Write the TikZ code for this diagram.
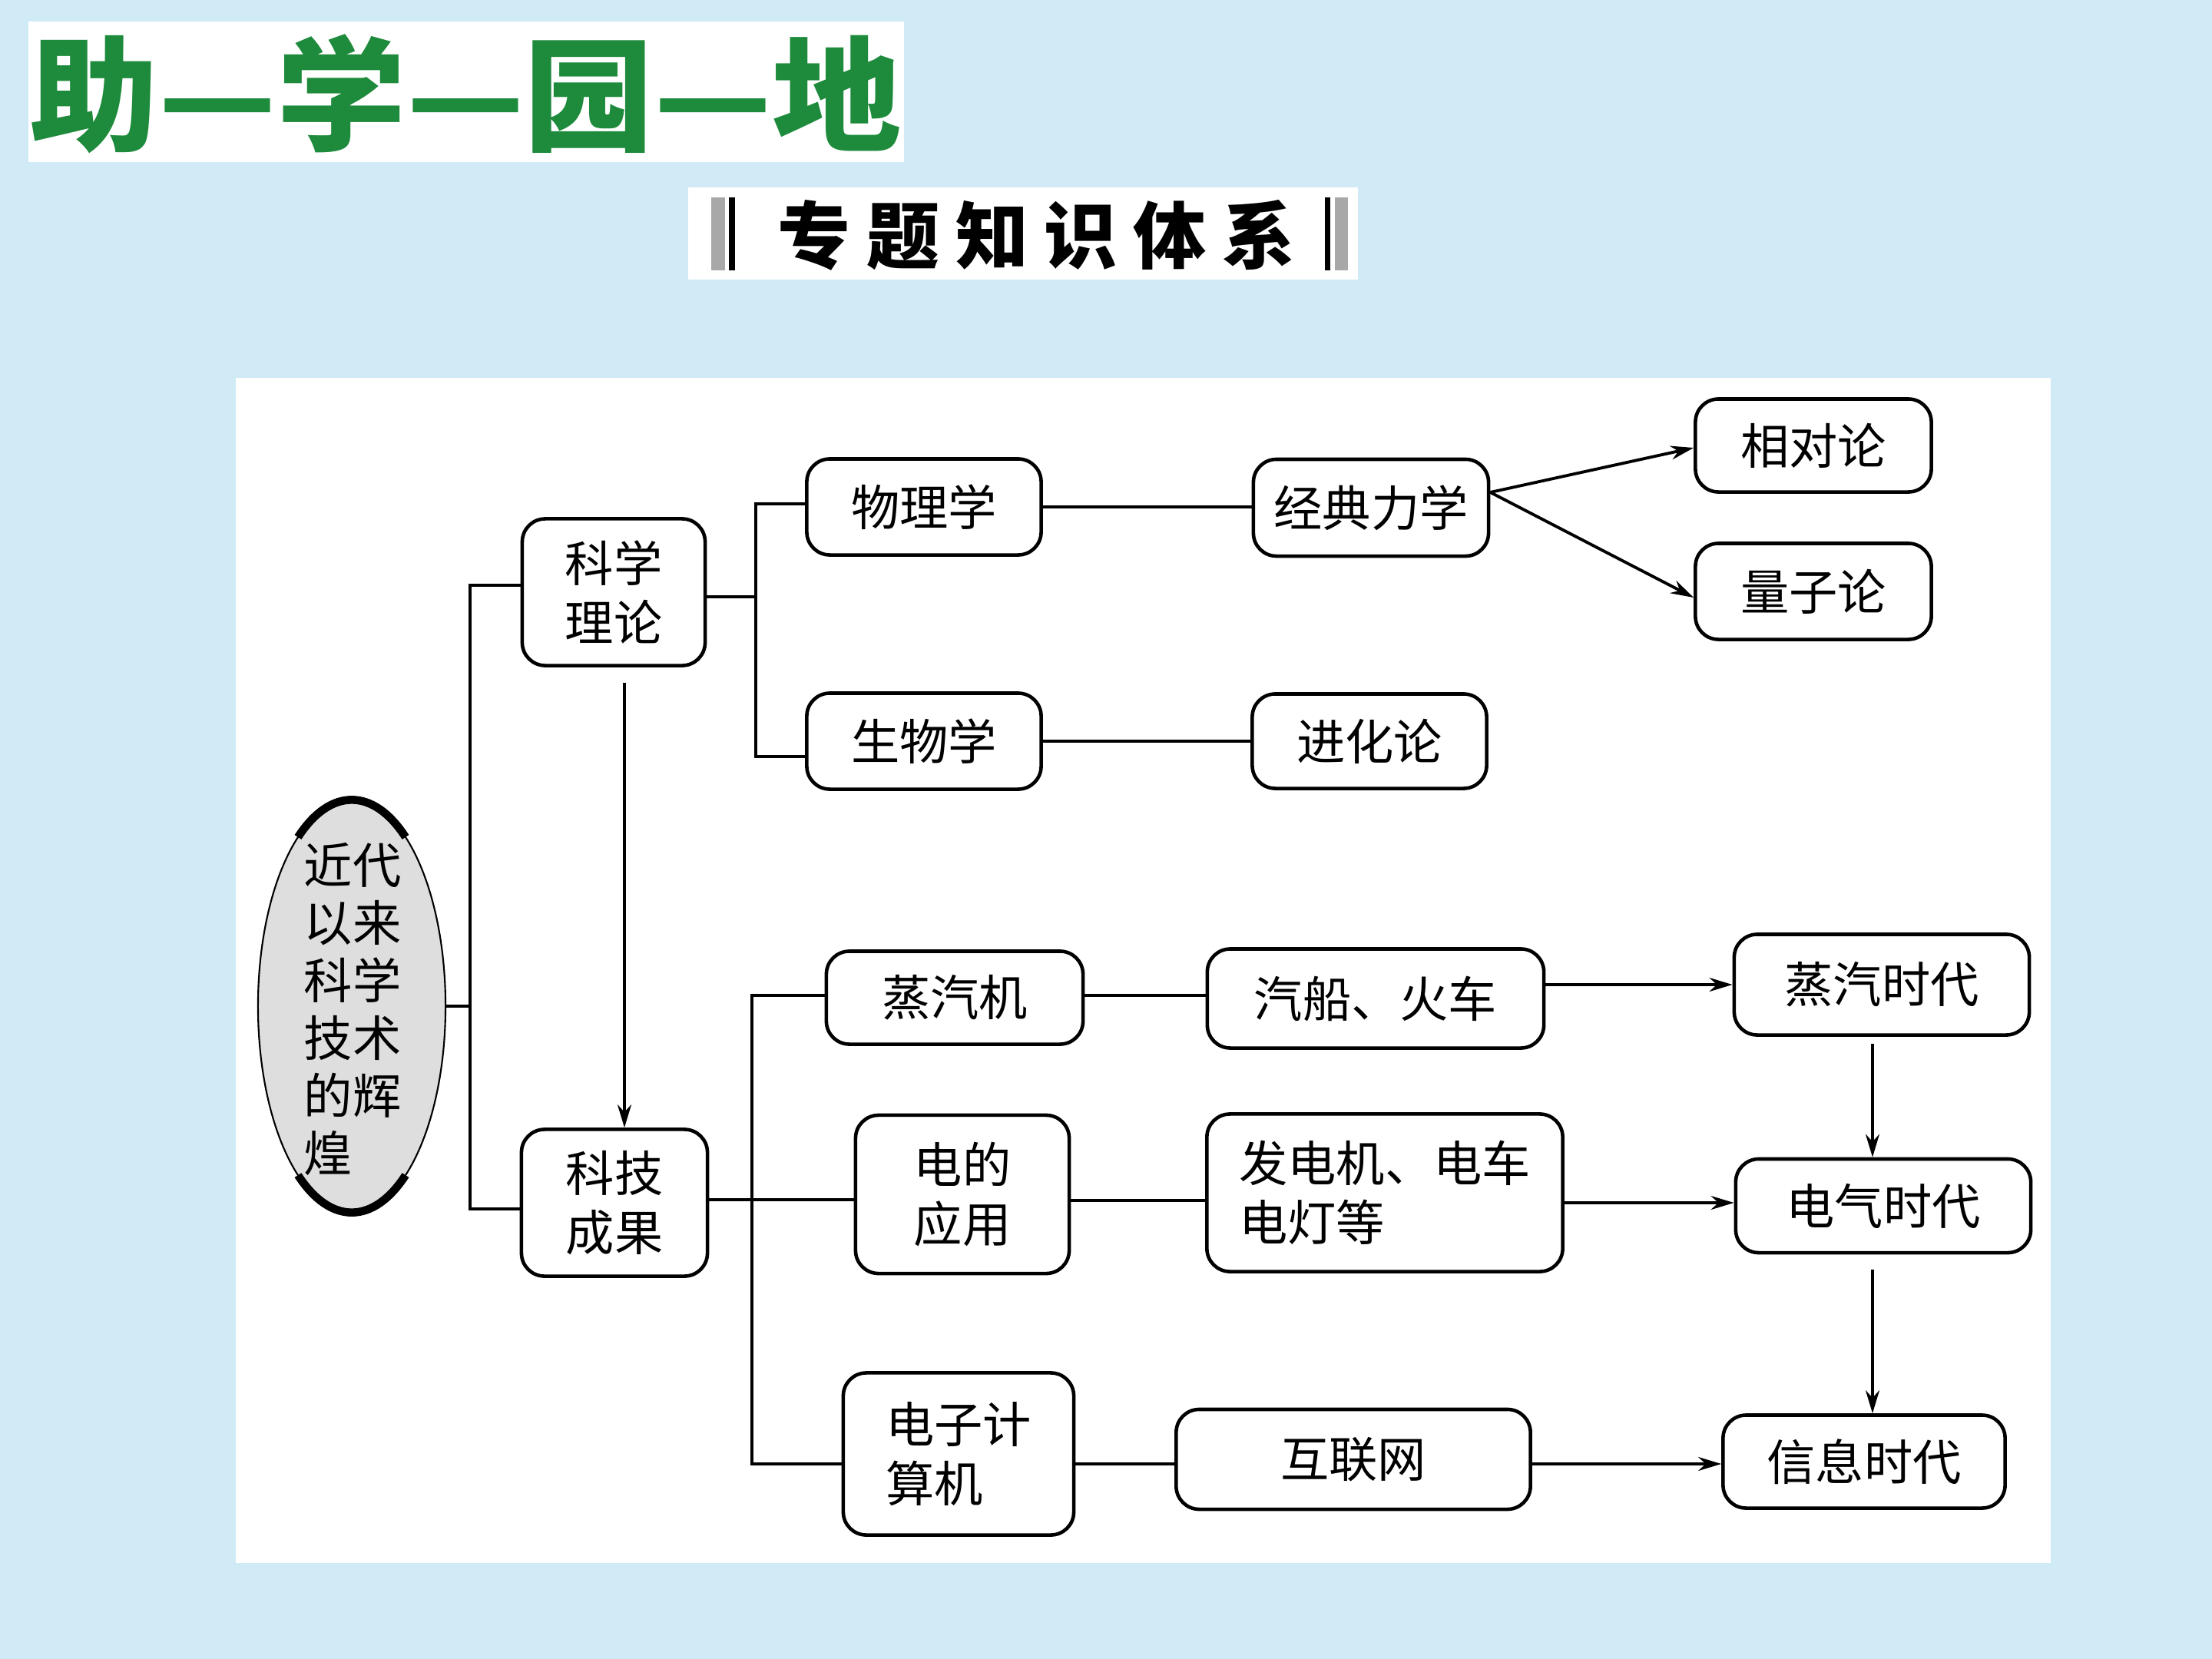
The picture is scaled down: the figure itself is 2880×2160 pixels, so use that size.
\documentclass[tikz,border=0pt]{standalone}
\usepackage{fontspec}
\setmainfont{Noto Sans CJK SC}
\newfontfamily\widecjk{Noto Sans CJK SC}[LetterSpace=22]
\usepackage{xcolor}
\definecolor{pageBlue}{HTML}{D0EAF6}
\definecolor{titleGreen}{HTML}{1E8B3C}
\definecolor{barGray}{HTML}{A8A8A8}
\definecolor{ovalGray}{HTML}{DEDEDE}
\usepackage{tikz}
\usetikzlibrary{shapes.geometric, arrows.meta, positioning, calc}

\begin{document}
\begin{tikzpicture}[
    x=0.01cm, y=-0.01cm,
    box/.style={draw=black, fill=white, rectangle, rounded corners=0.3cm, line width=1.3pt, align=center, inner sep=0pt, font=\fontsize{18}{22}\selectfont},
    conn/.style={line width=1.1pt, draw=black},
    arrow/.style={-{Stealth[length=0.3cm, width=0.18cm]}, line width=1.1pt, draw=black}
]
\useasboundingbox (0,0) rectangle (2880,2160);
\fill[pageBlue] (0,0) rectangle (2880,2160);

% title and heading
\fill[white] (37,28) rectangle (1177,211);
\node (title) [text=titleGreen, xscale=1.04, font=\fontsize{46}{46}\selectfont\bfseries] at (606,122) {助—学—园—地};
\fill[white] (896,244) rectangle (1768,364);
\fill[barGray] (926,257) rectangle (944,352);
\fill[black] (949,257) rectangle (957,352);
\fill[black] (1725,257) rectangle (1732,352);
\fill[barGray] (1738,257) rectangle (1755,352);
\node (sub) [anchor=west, font=\fontsize{27}{27}\selectfont\widecjk\bfseries] at (1000,306) {专题知识体系};

\fill[white] (307,492) rectangle (2670,2035);

% oval
\node (e) [ellipse, draw=black, fill=ovalGray, line width=0.6pt, minimum width=2.44cm, minimum height=5.37cm, inner sep=0pt] at (458,1310) {};
\draw[line width=3pt] ([shift={(55:1.22cm and 2.685cm)}]e.center) arc[start angle=55, end angle=125, x radius=1.22cm, y radius=2.685cm];
\draw[line width=3pt] ([shift={(235:1.22cm and 2.685cm)}]e.center) arc[start angle=235, end angle=305, x radius=1.22cm, y radius=2.685cm];
\node (etext) [align=left, font=\fontsize{18}{21.3}\selectfont] at (459,1314) {近代\\以来\\科学\\技术\\的辉\\煌};

\node (kxll) [box, minimum width=2.38cm, minimum height=1.91cm] at (799,771) {科学\\理论};
\node (kjcg) [box, minimum width=2.42cm, minimum height=1.91cm] at (800,1566) {科技\\成果};

\node (wlx) [box, minimum width=3.05cm, minimum height=1.25cm] at (1203,660) {物理学};
\node (swx) [box, minimum width=3.05cm, minimum height=1.25cm] at (1203,965) {生物学};
\node (jdlx) [box, minimum width=3.06cm, minimum height=1.26cm] at (1785,661) {经典力学};
\node (jhl) [box, minimum width=3.05cm, minimum height=1.23cm] at (1783,965) {进化论};
\node (xdl) [box, minimum width=3.07cm, minimum height=1.21cm] at (2361,580) {相对论};
\node (lzl) [box, minimum width=3.07cm, minimum height=1.25cm] at (2361,770) {量子论};

\node (zqj) [box, minimum width=3.34cm, minimum height=1.21cm] at (1243,1299) {蒸汽机};
\node (ddyy) [box, minimum width=2.78cm, minimum height=2.06cm] at (1253,1555) {电的\\应用};
\node (dzjsj) [box, align=left, minimum width=3.00cm, minimum height=2.11cm] at (1248,1893) {电子计\\算机};
\node (qchc) [box, minimum width=4.38cm, minimum height=1.29cm] at (1791,1300) {汽船、火车};
\node (fdj) [box, align=left, minimum width=4.63cm, minimum height=2.05cm] at (1803,1553) {发电机、电车\\电灯等};
\node (hlw) [box, minimum width=4.61cm, minimum height=1.30cm] at (1762,1900) {互联网};
\node (zqsd) [box, minimum width=3.84cm, minimum height=1.31cm] at (2450,1282) {蒸汽时代};
\node (dqsd) [box, minimum width=3.84cm, minimum height=1.22cm] at (2452,1570) {电气时代};
\node (xxsd) [box, minimum width=3.67cm, minimum height=1.21cm] at (2427,1903) {信息时代};

% connectors
\coordinate (trunkA) at ([xshift=0.31cm]e.east);
\coordinate (trunkB) at ([xshift=0.64cm,yshift=-0.06cm]kxll.east);
\coordinate (trunkC) at ([xshift=0.56cm,yshift=0.04cm]kjcg.east);
\draw[conn] (e.east) -- (trunkA);
\draw[conn] ([yshift=0.09cm]kxll.west) -| (trunkA) |- ([yshift=-0.08cm]kjcg.west);
\draw[arrow] ([xshift=0.14cm,yshift=-0.2cm]kxll.south) -- ([xshift=0.14cm]kxll.south |- kjcg.north);

\draw[conn] ([yshift=-0.06cm]kxll.east) -- (trunkB);
\draw[conn] ([yshift=0.04cm]wlx.west) -| (trunkB) |- ([yshift=-0.2cm]swx.west);
\draw[conn] (wlx.east) -- (wlx.east -| jdlx.west);
\draw[conn] (swx.east) -- (jhl.west);
\draw[arrow] ([yshift=0.2cm]jdlx.east) -- ([yshift=-0.03cm]xdl.west);
\draw[arrow] ([yshift=0.2cm]jdlx.east) -- ([yshift=-0.08cm]lzl.west);

\draw[conn] ([yshift=0.04cm]kjcg.east) -- (trunkC);
\draw[conn] ([yshift=0.03cm]zqj.west) -| (trunkC) |- ([yshift=-0.13cm]dzjsj.west);
\draw[conn] (trunkC) -- (trunkC -| ddyy.west);
\draw[conn] ([yshift=0.03cm]zqj.east) -- ([yshift=0.03cm]zqj.east -| qchc.west);
\draw[conn] ([yshift=-0.08cm]ddyy.east) -- ([yshift=-0.08cm]ddyy.east -| fdj.west);
\draw[conn] ([yshift=-0.13cm]dzjsj.east) -- ([yshift=-0.13cm]dzjsj.east -| hlw.west);
\draw[arrow] (zqsd.west -| qchc.east) -- (zqsd.west);
\draw[arrow] ([yshift=0.04cm]dqsd.west -| fdj.east) -- ([yshift=0.04cm]dqsd.west);
\draw[arrow] ([yshift=-0.03cm]xxsd.west -| hlw.east) -- ([yshift=-0.03cm]xxsd.west);
\draw[arrow] ([xshift=-0.12cm,yshift=-0.09cm]zqsd.south) -- ([xshift=-0.12cm]zqsd.south |- dqsd.north);
\draw[arrow] ([xshift=-0.14cm,yshift=-0.2cm]dqsd.south) -- ([xshift=-0.14cm]dqsd.south |- xxsd.north);

\end{tikzpicture}
\end{document}
